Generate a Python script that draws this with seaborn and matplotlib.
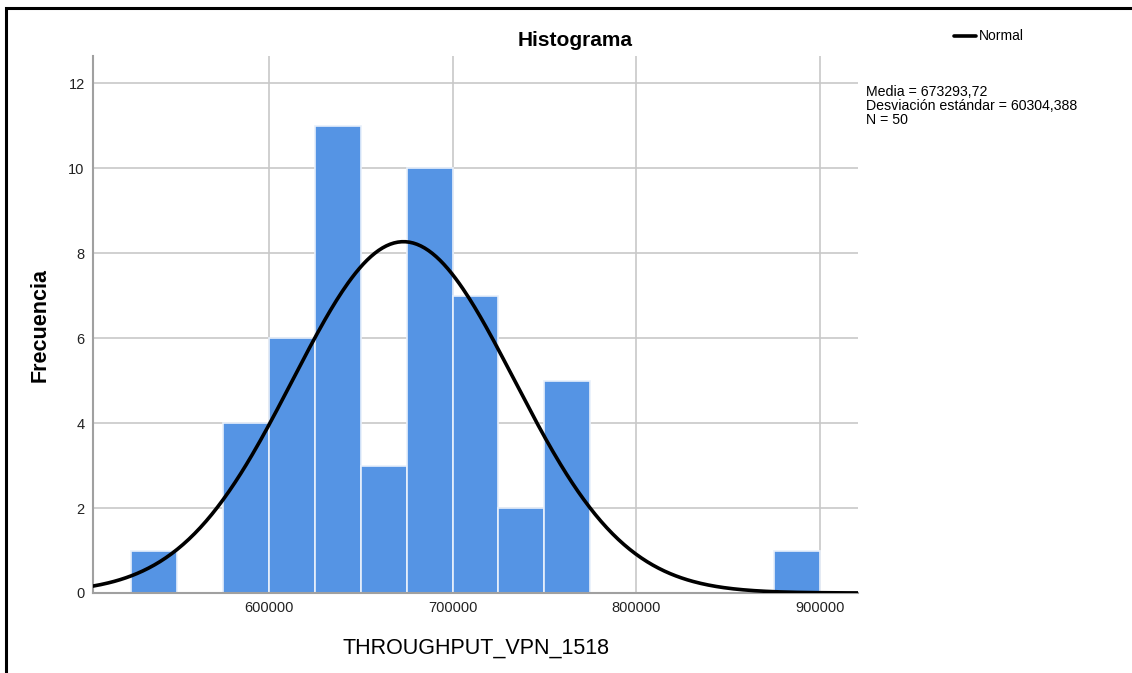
import numpy as np
import pandas as pd
import matplotlib
matplotlib.use("Agg")
import matplotlib.pyplot as plt
import seaborn as sns
from matplotlib.patches import Rectangle
from matplotlib.lines import Line2D

# Data
bin_edges = [525000, 550000, 575000, 600000, 625000, 650000, 675000, 700000,
             725000, 750000, 775000, 800000, 825000, 850000, 875000, 900000]
counts = [1, 0, 4, 6, 11, 3, 10, 7, 2, 5, 0, 0, 0, 0, 1]
mean_val = 673293.72
sd_val = 60304.388
n_val = 50
x_ticks = [600000, 700000, 800000, 900000]
y_ticks = [0, 2, 4, 6, 8, 10, 12]

sns.set_style("white")
plt.rcParams['font.family'] = ['Liberation Sans', 'DejaVu Sans']
plt.rcParams['text.color'] = 'black'

W, H = 1132, 673
fig = plt.figure(figsize=(W / 100, H / 100), dpi=100)
ax = fig.add_axes([93 / W, 1 - 593 / H, (858 - 93) / W, (593 - 56) / H])

centers = [(a + b) / 2 for a, b in zip(bin_edges[:-1], bin_edges[1:])]
df = pd.DataFrame({"x": centers, "w": counts})
sns.histplot(data=df, x="x", weights="w", bins=bin_edges, ax=ax,
             color="#5594e4", alpha=1.0, edgecolor="#e8f0fb", linewidth=1.2, zorder=2)

xlim = (504300, 920700)
binw = bin_edges[1] - bin_edges[0]
xs = np.linspace(xlim[0], xlim[1], 400)
ys = n_val * binw / (sd_val * np.sqrt(2 * np.pi)) * np.exp(-0.5 * ((xs - mean_val) / sd_val) ** 2)
sns.lineplot(x=xs, y=ys, ax=ax, color="black", linewidth=2.6, zorder=3)

ax.set_xlim(*xlim)
ax.set_ylim(0, 12.64)
ax.set_xticks(x_ticks)
ax.set_xticklabels([str(v) for v in x_ticks])
ax.set_yticks(y_ticks)
ax.grid(True, color="#c8c8c8", linewidth=1.2, zorder=0)
ax.set_axisbelow(True)
for s in ["top", "right"]:
    ax.spines[s].set_visible(False)
for s in ["left", "bottom"]:
    ax.spines[s].set_color("#a0a0a0")
    ax.spines[s].set_linewidth(1.5)
ax.tick_params(axis="both", length=0, labelsize=10.5, colors="#222222", pad=6)
ax.set_xlabel("")
ax.set_ylabel("")

fig.text(575 / W, 1 - 40 / H, "Histograma", ha="center", va="center",
         fontsize=15, fontweight="bold")
fig.text(40 / W, 1 - 325 / H, "Frecuencia", ha="center", va="center",
         fontsize=15.5, fontweight="bold", rotation=90)
fig.text(476 / W, 1 - 648 / H, "THROUGHPUT_VPN_1518", ha="center", va="center",
         fontsize=15.5)

fig.add_artist(Line2D([954 / W, 976 / W], [1 - 36 / H, 1 - 36 / H], color="black",
                      linewidth=2.6, transform=fig.transFigure))
fig.text(979 / W, 1 - 36 / H, "Normal", ha="left", va="center", fontsize=10)
fig.text(866 / W, 1 - 85 / H,
         "Media = 673293,72\nDesviación estándar = 60304,388\nN = 50",
         ha="left", va="top", fontsize=10.2, linespacing=1.0)

fig.add_artist(Rectangle((6 / W, -0.1), 1.2, 1 - 8 / H + 0.1, transform=fig.transFigure,
                         fill=False, edgecolor="black", linewidth=2.2))

fig.savefig("out.png", dpi=100)
